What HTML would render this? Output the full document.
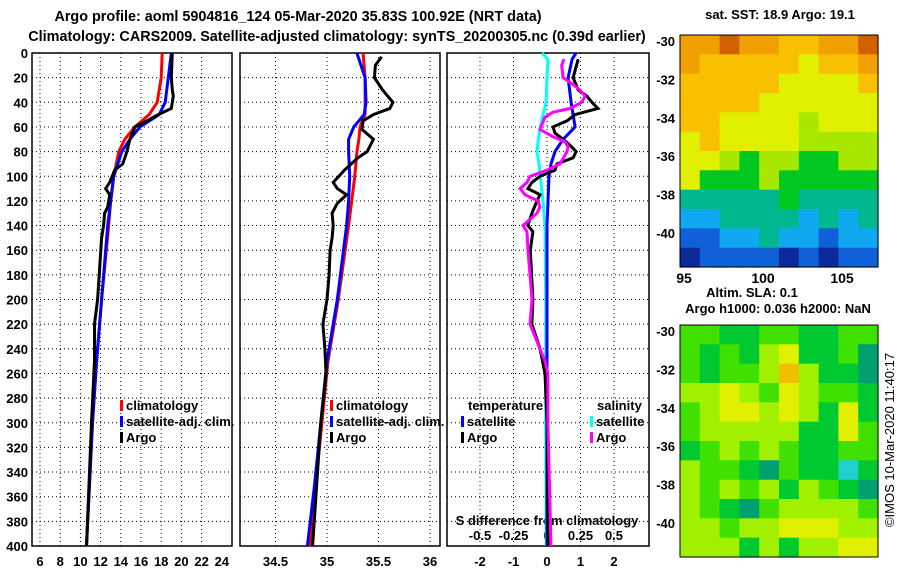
<!DOCTYPE html>
<html><head><meta charset="utf-8"><style>
body{margin:0;background:#fff;}
svg{display:block;font-family:"Liberation Sans",sans-serif;}
.b{font-weight:bold;font-size:13px;}
</style></head><body>
<svg id="c" width="900" height="580" xmlns="http://www.w3.org/2000/svg">
<text class="b" x="298" y="21" text-anchor="middle" style="font-size:14.4px">Argo profile: aoml 5904816_124 05-Mar-2020 35.83S 100.92E (NRT data)</text>
<text class="b" x="337" y="41" text-anchor="middle" style="font-size:14.4px">Climatology: CARS2009. Satellite-adjusted climatology: synTS_20200305.nc (0.39d earlier)</text>
<g id="g"></g>
</svg>
<script>
// ---- data ----
const tDepth = [0,20,40,50,60,70,80,100,120,140,200,250,300,350,400];
const tClim  = [18.1,18.0,17.6,16.8,15.4,14.4,13.8,13.3,13.0,12.8,12.1,11.6,11.2,10.9,10.6];
const tSat   = [19.0,18.7,18.4,17.8,15.9,14.9,14.1,13.3,13.0,12.7,12.1,11.6,11.2,10.9,10.6];
const aDepth = [0,20,30,35,45,50,55,60,70,80,90,95,105,110,115,125,130,140,150,200,220,250,300,400];
const tArgo  = [19.1,19.0,19.1,19.2,19.0,17.7,16.6,15.4,14.9,14.6,14.2,13.4,12.9,12.5,12.9,12.7,12.4,12.3,12.1,11.7,11.4,11.4,11.1,10.6];
const sClim  = [35.35,35.37,35.37,35.37,35.32,35.31,35.29,35.27,35.24,35.21,35.11,35.01,34.95,34.89,34.83];
const sSat   = [35.29,35.37,35.38,35.36,35.26,35.21,35.21,35.22,35.21,35.19,35.10,35.00,34.94,34.88,34.81];
const sDepth = [3,10,20,30,40,45,50,55,62,70,80,85,95,105,110,115,122,130,140,150,160,180,200,220,240,260,300,400];
const sArgo  = [35.53,35.47,35.46,35.54,35.64,35.61,35.45,35.35,35.34,35.45,35.39,35.30,35.17,35.06,35.10,35.19,35.10,35.05,35.06,35.05,35.03,35.02,35.00,34.96,34.98,34.99,34.94,34.86];
const dDepth = [0,5,20,40,50,60,70,80,90,100,120,140,200,300,400];
const dTsat  = [0.87,0.75,0.63,0.72,0.78,0.84,0.48,0.24,0.12,0.06,0.03,0.0,0.0,0.0,0.0];
const dSsat  = [-0.037,0.007,0.0,-0.007,-0.03,-0.05,-0.065,-0.075,-0.06,-0.05,-0.03,-0.015,-0.01,-0.01,-0.005];
const xDepth = [5,20,30,35,40,45,50,55,60,65,70,75,80,85,90,95,100,105,110,115,120,130,140,145,160,200,220,240,260,300,400];
const dTargo = [0.93,0.78,0.93,1.19,1.34,1.52,0.84,0.60,0.18,0.24,0.48,0.69,0.87,0.78,0.30,0.24,-0.21,-0.45,-0.57,-0.21,-0.30,-0.45,-0.57,-0.42,-0.50,-0.42,-0.45,-0.21,-0.06,0.0,0.03];
const mDepth = [5,10,20,25,30,35,40,45,48,52,58,62,68,72,76,80,90,95,100,105,110,115,120,125,130,135,140,145,160,180,200,220,240,250,260,300,400];
const dSargo = [0.127,0.11,0.12,0.187,0.246,0.284,0.26,0.172,0.045,-0.015,-0.037,-0.052,0.045,0.134,0.157,0.149,0.097,0.0,-0.127,-0.149,-0.2,-0.164,-0.067,-0.052,-0.075,-0.127,-0.179,-0.149,-0.142,-0.127,-0.112,-0.127,-0.052,-0.015,0.007,0.007,0.03];
const tTicks = [6,8,10,12,14,16,18,20,22,24];
const sTicks = [34.5,35,35.5,36];
const dTicks = [-2,-1,0,1,2];
const sdTicks = ["-0.5","-0.25","0","0.25","0.5"];
const depthTicks = [0,20,40,60,80,100,120,140,160,180,200,220,240,260,280,300,320,340,360,380,400];
const latTicks = [-30,-32,-34,-36,-38,-40];
const lonTicks = [95,100,105];
const sstGrid = [
[8,8,9,8,8,7,7,8,8,9],[8,7,7,7,7,7,6,7,7,8],[7,7,7,7,7,6,6,6,6,7],[7,7,7,7,6,6,6,6,6,6],
[7,7,6,6,6,6,5,6,6,6],[6,7,6,6,6,6,5,5,5,5],[6,6,5,4,5,5,4,4,5,5],[6,4,4,4,5,4,4,4,4,4],
[3,3,3,3,3,4,3,3,3,3],[2,2,3,3,3,3,2,3,2,3],[1,1,2,2,3,2,2,1,2,2],[0,1,1,1,1,0,1,0,1,1]];
const slaGrid = [
[2,2,1,1,2,2,1,1,2,2],[2,1,2,1,3,4,1,1,2,0],[2,1,2,2,3,5,3,1,1,0],[3,3,4,3,2,4,3,2,2,1],
[2,3,4,4,3,4,3,1,4,1],[2,3,3,3,3,3,1,1,4,2],[1,2,3,2,3,2,1,1,2,2],[3,2,2,1,0,2,1,1,6,1],
[3,2,3,2,3,1,3,2,1,0],[3,2,1,0,2,3,3,3,3,2],[3,3,2,3,3,4,4,4,3,3],[3,3,3,1,3,1,3,3,4,4]];
const sstColors = ["#0a2a9a","#1060d8","#10a8f0","#00b890","#00c820","#a8e800","#e0f000","#f8c000","#f0a000","#d06000"];
const slaColors = ["#00a070","#00c830","#40e000","#a0f000","#e0f000","#f0c000","#20d0d0"];
// ---- drawing ----
const NS="http://www.w3.org/2000/svg", G=document.getElementById('g');
function mk(tag,at,txt){const e=document.createElementNS(NS,tag);for(const k in at)e.setAttribute(k,at[k]);if(txt!==undefined)e.textContent=txt;G.appendChild(e);return e;}
const yD = d => 53 + d*1.2325;
const xT = v => 40 + (v-6)*10.1;
const xS = v => 327 + (v-35)*103;
const xDT = v => 547 + v*33.5;
const xDS = v => 547 + v*134;
function panel(x0,x1,name,gx){
  const r=mk('rect',{x:x0,y:53,width:x1-x0,height:493,fill:'none',stroke:'#000','stroke-width':1.5});
  
  
  depthTicks.forEach(d=>{if(d>0&&d<400){const l=mk('line',{x1:x0,x2:x1,y1:yD(d),y2:yD(d),stroke:'#000','stroke-dasharray':'1,3'});
    
    }});
  gx.forEach(x=>{const l=mk('line',{x1:x,x2:x,y1:53,y2:546,stroke:'#000','stroke-dasharray':'1,3'});
    
    });
}
function line(xs,ds,fx,col,name){
  const p=mk('polyline',{points:xs.map((v,i)=>fx(v).toFixed(1)+','+yD(ds[i]).toFixed(1)).join(' '),fill:'none',stroke:col,'stroke-width':3});
  
  
}
function txt(x,y,s,anchor,name,extra){
  const t=mk('text',Object.assign({x:x,y:y,class:'b','text-anchor':anchor||'start'},extra||{}),s);
  
  
  return t;
}
function leg(x,y,col,label,name){
  const m=mk('rect',{x:x,y:y-10,width:3,height:11,fill:col});
  
  
  txt(x+6,y,label,'start',name);
}
panel(32,232,'temperature-panel',tTicks.slice(0,9).map(xT));
panel(240,440,'salinity-panel',sTicks.map(xS));
panel(447,649,'difference-panel',dTicks.map(xDT));
depthTicks.forEach(d=>txt(28,yD(d)+5,String(d),'end','depth-tick-label'));
tTicks.forEach(v=>txt(xT(v),566,String(v),'middle','temp-tick-label'));
sTicks.forEach(v=>txt(xS(v),566,String(v),'middle','sal-tick-label'));
dTicks.forEach(v=>txt(xDT(v),566,String(v),'middle','diff-tick-label'));
sdTicks.forEach((s,i)=>txt(xDS(parseFloat(s)),540,s,'middle','sdiff-tick-label'));
txt(547,525,'S difference from climatology','middle','sdiff-axis-title');
line(tClim,tDepth,xT,'#f00','temp-climatology-line');
line(tSat,tDepth,xT,'#00f','temp-satellite-line');
line(tArgo,aDepth,xT,'#000','temp-argo-line');
line(sClim,tDepth,xS,'#f00','sal-climatology-line');
line(sSat,tDepth,xS,'#00f','sal-satellite-line');
line(sArgo,sDepth,xS,'#000','sal-argo-line');
line(dSsat,dDepth,xDS,'#0ff','sdiff-satellite-line');
line(dTsat,dDepth,xDT,'#00f','tdiff-satellite-line');
line(dTargo,xDepth,xDT,'#000','tdiff-argo-line');
line(dSargo,mDepth,xDS,'#f0f','sdiff-argo-line');
leg(120,410,'#f00','climatology','legend-climatology');
leg(120,426,'#00f','satellite-adj. clim.','legend-satellite-adj');
leg(120,442,'#000','Argo','legend-argo');
leg(330,410,'#f00','climatology','legend2-climatology');
leg(330,426,'#00f','satellite-adj. clim.','legend2-satellite-adj');
leg(330,442,'#000','Argo','legend2-argo');
txt(468,410,'temperature','start','legend-temperature-title');
txt(597,410,'salinity','start','legend-salinity-title');
leg(461,426,'#00f','satellite','legend-t-satellite');
leg(461,442,'#000','Argo','legend-t-argo');
leg(590,426,'#0ff','satellite','legend-s-satellite');
leg(590,442,'#f0f','Argo','legend-s-argo');
// maps
function map(grid,cols,top,name){
  const x0=680,x1=878,cw=(x1-x0)/grid[0].length,ch=232/grid.length;
  grid.forEach((row,r)=>row.forEach((v,c)=>{const e=mk('rect',{x:(x0+c*cw).toFixed(1),y:(top+r*ch).toFixed(1),width:(cw+0.6).toFixed(1),height:(ch+0.6).toFixed(1),fill:cols[v]});
    
    }));
  const f=mk('rect',{x:x0,y:top,width:x1-x0,height:232,fill:'none',stroke:'#000','stroke-width':1});
  
  
  latTicks.forEach(l=>txt(675,top+11+(-30-l)/2*38.4,String(l),'end',name+'-lat-label'));
}
map(sstGrid,sstColors,35,'sst-map');
map(slaGrid,slaColors,325,'sla-map');
lonTicks.forEach(l=>txt(684+(l-95)*15.8,283,String(l),'middle','lon-tick-label',{'style':'font-size:14px'}));
txt(780,19,'sat. SST: 18.9 Argo: 19.1','middle','sst-map-title');
txt(752,297,'Altim. SLA: 0.1','middle','sla-map-title');
txt(778,313,'Argo h1000: 0.036 h2000: NaN','middle','argo-height-title');
const c=txt(0,0,'©IMOS 10-Mar-2020 11:40:17','middle','credit-text',{transform:'translate(894,440) rotate(-90)'});
c.setAttribute('style','font-weight:normal;font-size:13px');
</script>
</body></html>
